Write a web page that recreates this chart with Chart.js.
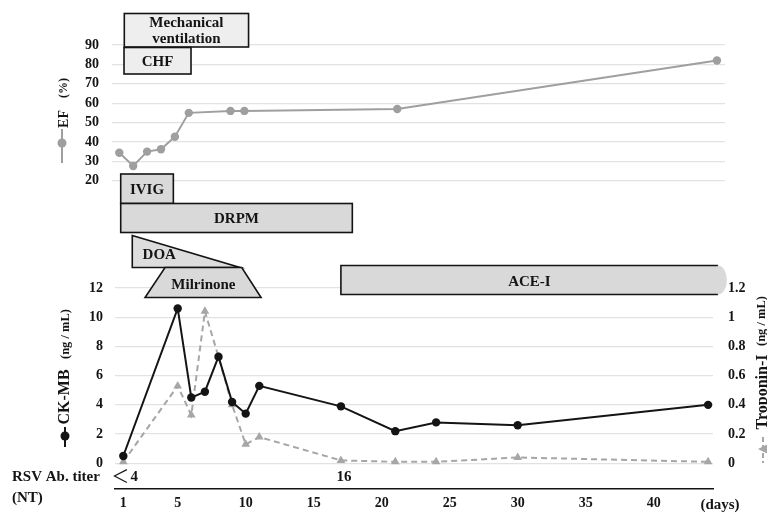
<!DOCTYPE html>
<html>
<head>
<meta charset="utf-8">
<script src="https://cdn.jsdelivr.net/npm/chart.js@4/dist/chart.umd.min.js"></script>
<style>
  body { margin: 0; background: #fff; }
  #wrap { position: relative; width: 767px; height: 513px; }
  canvas { position: absolute; left: 0; top: 0; }
</style>
</head>
<body>
<div id="wrap">
  <canvas id="efChart" width="767" height="513"></canvas>
  <canvas id="labChart" width="767" height="513"></canvas>
</div>
<script>
"use strict";

// EF (%) by day
const efDays = [1, 2, 3, 4, 5, 6, 9, 10, 21, 44];
const efValues = [34.4, 27.6, 35, 36.2, 42.7, 55, 56, 56, 57, 82];

// CK-MB and Troponin-I (ng/mL) by day
const labDays = [1, 5, 6, 7, 8, 9, 10, 11, 17, 21, 24, 30, 44];
const ckmbValues = [0.5, 10.6, 4.5, 4.9, 7.3, 4.2, 3.4, 5.3, 3.9, 2.2, 2.8, 2.6, 4.0];
const troponinValues = [0.01, 0.53, 0.33, 1.04, 0.73, 0.4, 0.13, 0.18, 0.02, 0.01, 0.01, 0.04, 0.01];

// tick labels
const efTicks = [20, 30, 40, 50, 60, 70, 80, 90];
const ckTicks = [0, 2, 4, 6, 8, 10, 12];
const tropTicks = [0, 0.2, 0.4, 0.6, 0.8, 1, 1.2];
const dayTicks = [1, 5, 10, 15, 20, 25, 30, 35, 40];

// treatment periods (days)
const topNames = ["Mechanical ventilation", "CHF"];
const topStart = [1.36, 1.34];
const topEnd = [10.3, 6.16];
const drugNames = ["IVIG", "DRPM", "DOA", "Milrinone", "ACE-I"];
const drugStart = [0.81, 0.81, 1.66, 2.6, 17.0];
const drugEnd = [4.68, 17.84, 9.58, 11.13, 44.72];
const milrinoneFull = [4.07, 9.71];

// RSV antibody titer
const rsvDays = [1, 17];
const rsvTiters = ["<4", "16"];

const efColor = "#9f9f9f";
const tropColor = "#a6a6a6";
const gridColor = "#e2e2e2";
const ink = "#141414";
const serif = "'Liberation Serif', 'Times New Roman', serif";

function tickFont(size) {
  return { family: serif, size: size, weight: "bold" };
}

function setTicks(values) {
  return function (scale) {
    scale.ticks = values.map(function (v) { return { value: v }; });
  };
}

function label(ctx, text, x, y, size, align) {
  ctx.save();
  ctx.font = "bold " + size + "px " + serif;
  ctx.fillStyle = ink;
  ctx.textAlign = align || "center";
  ctx.textBaseline = "middle";
  ctx.fillText(text, x, y);
  ctx.restore();
}

function vLabel(ctx, text, x, y, size) {
  ctx.save();
  ctx.translate(x, y);
  ctx.rotate(-Math.PI / 2);
  label(ctx, text, 0, 0, size);
  ctx.restore();
}

function drawBox(ctx, x1, y1, x2, y2, fill) {
  ctx.save();
  ctx.fillStyle = fill;
  ctx.strokeStyle = ink;
  ctx.lineWidth = 1.6;
  ctx.fillRect(x1, y1, x2 - x1, y2 - y1);
  ctx.strokeRect(x1, y1, x2 - x1, y2 - y1);
  ctx.restore();
}

function drawShape(ctx, pts, fill) {
  ctx.save();
  ctx.beginPath();
  ctx.moveTo(pts[0][0], pts[0][1]);
  for (let i = 1; i < pts.length; i++) ctx.lineTo(pts[i][0], pts[i][1]);
  ctx.closePath();
  ctx.fillStyle = fill;
  ctx.fill();
  ctx.strokeStyle = ink;
  ctx.lineWidth = 1.6;
  ctx.stroke();
  ctx.restore();
}

const efDecor = {
  id: "efDecor",
  afterDraw(chart) {
    const ctx = chart.ctx;
    const sx = chart.scales.x;
    const m0 = sx.getPixelForValue(topStart[0]);
    const m1 = sx.getPixelForValue(topEnd[0]);
    drawBox(ctx, m0, 13.5, m1, 47, "#eeeeee");
    const words = topNames[0].split(" ");
    label(ctx, words[0], (m0 + m1) / 2, 23, 15);
    label(ctx, words[1], (m0 + m1) / 2, 39, 15);
    const c0 = sx.getPixelForValue(topStart[1]);
    const c1 = sx.getPixelForValue(topEnd[1]);
    drawBox(ctx, c0, 47.5, c1, 74, "#eeeeee");
    label(ctx, topNames[1], (c0 + c1) / 2, 62, 15);

    // axis title with legend marker
    vLabel(ctx, "EF", 64, 119, 14);
    vLabel(ctx, "(%)", 64, 88, 12);
    ctx.save();
    ctx.strokeStyle = efColor;
    ctx.lineWidth = 2;
    ctx.beginPath();
    ctx.moveTo(62, 129);
    ctx.lineTo(62, 163);
    ctx.stroke();
    ctx.fillStyle = efColor;
    ctx.beginPath();
    ctx.arc(62, 143, 4.5, 0, Math.PI * 2);
    ctx.fill();
    ctx.restore();
  }
};

const labDecor = {
  id: "labDecor",
  afterDraw(chart) {
    const ctx = chart.ctx;
    const sx = chart.scales.x;
    const px = function (d) { return sx.getPixelForValue(d); };
    const fill = "#d9d9d9";

    // IVIG, DRPM
    drawBox(ctx, px(drugStart[0]), 174, px(drugEnd[0]), 203.5, fill);
    label(ctx, drugNames[0], (px(drugStart[0]) + px(drugEnd[0])) / 2, 190.5, 15);
    drawBox(ctx, px(drugStart[1]), 203.5, px(drugEnd[1]), 232.5, fill);
    label(ctx, drugNames[1], (px(drugStart[1]) + px(drugEnd[1])) / 2, 219, 15);

    // DOA (tapering)
    const d0 = px(drugStart[2]), d1 = px(drugEnd[2]);
    drawShape(ctx, [[d0, 235.5], [d1, 267.5], [d0, 267.5]], "#dddddd");
    label(ctx, drugNames[2], d0 + 27, 255.5, 15);

    // Milrinone (ramp up / down)
    const f0 = px(milrinoneFull[0]), f1 = px(milrinoneFull[1]);
    drawShape(ctx, [[f0, 267.5], [f1, 267.5], [px(drugEnd[3]), 297.5], [px(drugStart[3]), 297.5]], fill);
    label(ctx, drugNames[3], (f0 + f1) / 2, 285, 15);

    // ACE-I (continued)
    const a0 = px(drugStart[4]), a1 = px(drugEnd[4]);
    ctx.save();
    ctx.fillStyle = fill;
    ctx.fillRect(a0, 265.5, a1 - a0, 29);
    ctx.beginPath();
    ctx.ellipse(a1, 280, 9, 14.5, 0, -Math.PI / 2, Math.PI / 2);
    ctx.fill();
    ctx.strokeStyle = ink;
    ctx.lineWidth = 1.6;
    ctx.beginPath();
    ctx.moveTo(a1, 265.5);
    ctx.lineTo(a0, 265.5);
    ctx.lineTo(a0, 294.5);
    ctx.lineTo(a1, 294.5);
    ctx.stroke();
    ctx.restore();
    label(ctx, drugNames[4], (a0 + a1) / 2, 282.5, 15);

    // RSV antibody titer row
    label(ctx, "RSV Ab. titer", 12, 477, 15, "left");
    label(ctx, "(NT)", 12, 498, 15, "left");
    for (let i = 0; i < rsvDays.length; i++) {
      const t = rsvTiters[i];
      const x = px(rsvDays[i]) + 3;
      if (t.charAt(0) === "<") {
        // wide "less than" sign as in the source figure
        ctx.save();
        ctx.font = "18px 'Noto Sans CJK JP'";
        ctx.fillStyle = ink;
        ctx.textAlign = "center";
        ctx.textBaseline = "middle";
        ctx.fillText("\uFF1C", x - 6, 476);
        ctx.restore();
        label(ctx, t.slice(1), x + 8, 477.5, 15);
      } else {
        label(ctx, t, x, 477.5, 15);
      }
    }
    label(ctx, "(days)", 720, 505, 15);

    // left axis title
    vLabel(ctx, "CK-MB", 65, 397, 16);
    vLabel(ctx, "(ng / mL)", 66, 334, 12.5);
    ctx.save();
    ctx.strokeStyle = ink;
    ctx.lineWidth = 2;
    ctx.beginPath();
    ctx.moveTo(65, 427);
    ctx.lineTo(65, 447);
    ctx.stroke();
    ctx.fillStyle = ink;
    ctx.beginPath();
    ctx.arc(65, 436, 4.5, 0, Math.PI * 2);
    ctx.fill();
    ctx.restore();

    // right axis title
    vLabel(ctx, "Troponin-I", 763, 392, 16);
    vLabel(ctx, "(ng / mL)", 762, 321, 12.5);
    ctx.save();
    ctx.strokeStyle = tropColor;
    ctx.lineWidth = 2;
    ctx.setLineDash([5, 3]);
    ctx.beginPath();
    ctx.moveTo(763, 437);
    ctx.lineTo(763, 463);
    ctx.stroke();
    ctx.setLineDash([]);
    ctx.fillStyle = tropColor;
    ctx.beginPath();
    ctx.moveTo(758, 449);
    ctx.lineTo(768, 444);
    ctx.lineTo(768, 454);
    ctx.closePath();
    ctx.fill();
    ctx.restore();
  }
};

function points(days, values) {
  return days.map(function (d, i) { return { x: d, y: values[i] }; });
}

new Chart(document.getElementById("efChart"), {
  type: "line",
  data: {
    datasets: [
      {
        label: "EF",
        data: points(efDays, efValues),
        borderColor: efColor,
        backgroundColor: efColor,
        borderWidth: 2,
        pointRadius: 4.2,
        pointBorderWidth: 0,
        tension: 0,
      },
    ],
  },
  options: {
    responsive: false,
    animation: false,
    layout: { padding: { top: 45, bottom: 332.3, left: 0, right: 42 } },
    plugins: { legend: { display: false }, tooltip: { enabled: false } },
    scales: {
      x: { type: "linear", min: 0.475, max: 44.58, display: false },
      y: {
        min: 20,
        max: 90,
        afterBuildTicks: setTicks(efTicks),
        afterFit: function (s) { s.width = 112; },
        grid: { color: gridColor, lineWidth: 1.2, drawTicks: false },
        border: { display: false },
        ticks: { font: tickFont(14), color: ink, padding: 13, autoSkip: false },
      },
    },
  },
  plugins: [efDecor],
});

new Chart(document.getElementById("labChart"), {
  type: "line",
  data: {
    datasets: [
      {
        label: "CK-MB",
        data: points(labDays, ckmbValues),
        yAxisID: "yCk",
        borderColor: ink,
        backgroundColor: ink,
        borderWidth: 2,
        pointRadius: 4.2,
        pointBorderWidth: 0,
        tension: 0,
      },
      {
        label: "Troponin-I",
        data: points(labDays, troponinValues),
        yAxisID: "yTrop",
        borderColor: tropColor,
        backgroundColor: tropColor,
        borderWidth: 2,
        borderDash: [6, 4],
        pointStyle: "triangle",
        pointRadius: 5,
        pointBorderWidth: 0,
        tension: 0,
      },
    ],
  },
  options: {
    responsive: false,
    animation: false,
    layout: { padding: { top: 288, bottom: 0, left: 0, right: 0 } },
    plugins: { legend: { display: false }, tooltip: { enabled: false } },
    scales: {
      x: {
        type: "linear",
        position: "bottom",
        min: 0.39,
        max: 44.36,
        afterBuildTicks: setTicks(dayTicks),
        afterFit: function (s) { s.height = 24; },
        grid: { display: false, drawTicks: false },
        border: { display: true, color: ink, width: 1.6 },
        ticks: { font: tickFont(14), color: ink, padding: 6, autoSkip: false, maxRotation: 0 },
      },
      yCk: {
        position: "left",
        min: -1.759,
        max: 12,
        afterBuildTicks: setTicks(ckTicks),
        afterFit: function (s) { s.width = 115; },
        grid: { color: gridColor, lineWidth: 1.2, drawTicks: false },
        border: { display: false },
        ticks: { font: tickFont(14), color: ink, padding: 12, autoSkip: false },
      },
      yTrop: {
        position: "right",
        min: -0.1759,
        max: 1.2,
        afterBuildTicks: setTicks(tropTicks),
        afterFit: function (s) { s.width = 54; },
        grid: { display: false, drawTicks: false },
        border: { display: false },
        ticks: {
          font: tickFont(14),
          color: ink,
          padding: 15,
          autoSkip: false,
          callback: function (v) { return String(v); },
        },
      },
    },
  },
  plugins: [labDecor],
});
</script>
</body>
</html>
